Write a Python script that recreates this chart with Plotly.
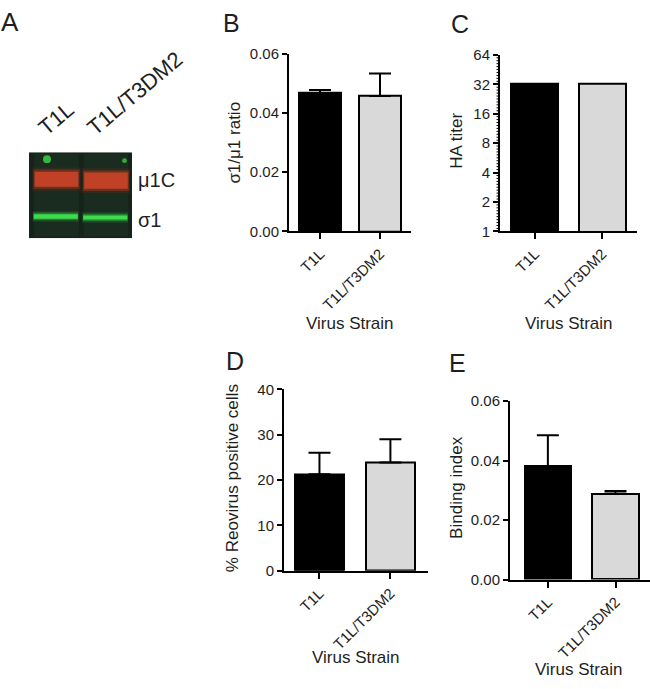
import math
import plotly.graph_objects as go

# ---------------- data ----------------
strains = ["T1L", "T1L/T3DM2"]
bar_colors = ["#000000", "#d9d9d9"]

ratio_mean = [0.0468, 0.0458]
ratio_err = [0.0010, 0.0076]

ha_titer = [32, 32]

reo_pos_mean = [21.3, 23.9]
reo_pos_err = [4.7, 5.1]

binding_mean = [0.0380, 0.0289]
binding_err = [0.0105, 0.0009]

ratio_ticks = [0.00, 0.02, 0.04, 0.06]
ha_ticks = [1, 2, 4, 8, 16, 32, 64]
reo_ticks = [0, 10, 20, 30, 40]
binding_ticks = [0.00, 0.02, 0.04, 0.06]

blot_lanes = ["T1L", "T1L/T3DM2"]
blot_bands = ["μ1C", "σ1"]

W, H = 650, 689
FONT = "Liberation Sans, Arial, sans-serif"
TXT = "#1e1e1e"


def px(xp):
    return xp / W


def py(yp):
    return 1 - yp / H


fig = go.Figure()

panels = [
    # (axis suffix, values, errors, x-domain px, y-domain px, xrange, barwidth)
    ("", ratio_mean, ratio_err, (289, 411), (228, 46), [-0.517, 1.517], 0.70),
    ("2", ha_titer, None, (500, 637), (228, 47), [-0.52, 1.52], 0.70),
    ("3", reo_pos_mean, reo_pos_err, (284, 428), (576, 390), [-0.5, 1.53], 0.68),
    ("4", binding_mean, binding_err, (510, 650), (585, 402), [-0.56, 1.51], 0.69),
]

for suf, vals, errs, xd, yd, xr, bw in panels:
    kw = dict(
        x=strains, y=vals, width=bw,
        marker=dict(color=bar_colors, line=dict(color="#000", width=2)),
        xaxis="x" + suf, yaxis="y" + suf, showlegend=False,
    )
    if errs is not None:
        kw["error_y"] = dict(type="data", array=errs, arrayminus=[0] * len(errs),
                             symmetric=False, color="#000", thickness=2, width=11)
    fig.add_trace(go.Bar(**kw))

axis_common = dict(
    showline=True, linecolor="#000", linewidth=2, showgrid=False, zeroline=False,
    ticks="outside", tickcolor="#000", tickwidth=2, ticklen=5,
    tickfont=dict(family=FONT, size=15, color=TXT),
)

layout = dict(
    width=W, height=H, margin=dict(l=0, r=0, t=0, b=0),
    plot_bgcolor="white", paper_bgcolor="white",
    font=dict(family=FONT, color=TXT), bargap=0,
)

for i, (suf, vals, errs, xd, yd, xr, bw) in enumerate(panels):
    xa = dict(axis_common, domain=[px(xd[0]), px(xd[1])], range=xr,
              anchor="y" + suf, tickangle=-45, ticklen=6, type="category")
    ya = dict(axis_common, domain=[py(yd[0]), py(yd[1])], anchor="x" + suf)
    if suf == "":
        ya.update(range=[0, 0.06], tickvals=ratio_ticks, tickformat=".2f")
    elif suf == "2":
        ya.update(type="log", range=[0, math.log10(64)], tickvals=ha_ticks,
                  ticktext=[str(t) for t in ha_ticks])
    elif suf == "3":
        ya.update(range=[0, 40], tickvals=reo_ticks)
    else:
        ya.update(range=[0, 0.06], tickvals=binding_ticks, tickformat=".2f")
    layout["xaxis" + suf] = xa
    layout["yaxis" + suf] = ya

# blot axis (panel A)
layout["xaxis5"] = dict(domain=[px(29), px(132)], range=[-0.556, 1.525], visible=False,
                        anchor="y5", fixedrange=True)
layout["yaxis5"] = dict(domain=[py(235), py(147)], range=[0, 1], visible=False,
                        anchor="x5", fixedrange=True)
fig.add_trace(go.Scatter(x=[0, 1], y=[0.5, 0.5], mode="markers", marker=dict(opacity=0),
                         xaxis="x5", yaxis="y5", showlegend=False, hoverinfo="skip"))

fig.update_layout(**layout)

shapes = []

# minor ticks of the log2 axis (panel C), evenly spaced in log space
n_oct = math.log2(ha_ticks[-1] / ha_ticks[0])
for k in range(int(n_oct)):
    for j in range(1, 10):
        f = (k + j / 10) / n_oct
        shapes.append(dict(type="line", xref="paper", yref="y2 domain",
                           x0=px(496.5), x1=px(499.5), y0=f, y1=f,
                           line=dict(color="#000", width=1), layer="above"))

# blot background
shapes.append(dict(type="rect", xref="x5", yref="y5", x0=-0.556, x1=1.525, y0=0, y1=1,
                   fillcolor="#16231a", line=dict(width=0), layer="above"))
# lane shading
for i, _ in enumerate(blot_lanes):
    shapes.append(dict(type="rect", xref="x5", yref="y5", x0=i - 0.45, x1=i + 0.45,
                       y0=0.02, y1=0.98, fillcolor="#1c2d20", line=dict(width=0),
                       layer="above", opacity=0.8))

red_band = {0: (0.60, 0.775), 1: (0.575, 0.765)}
green_band = {0: (0.228, 0.278), 1: (0.218, 0.265)}
for i, _ in enumerate(blot_lanes):
    lo, hi = red_band[i]
    for grow, op, col in [(0.05, 0.25, "#6e2a18"), (0.025, 0.5, "#a8381f"), (0.0, 0.85, "#cf4428")]:
        shapes.append(dict(type="rect", xref="x5", yref="y5", x0=i - 0.44 - grow,
                           x1=i + 0.44 + grow, y0=lo - grow, y1=hi + grow,
                           fillcolor=col, opacity=op, line=dict(width=0), layer="above"))
    lo, hi = green_band[i]
    for grow, op, col in [(0.04, 0.25, "#1f7a2a"), (0.02, 0.5, "#2fb83c"), (0.0, 0.95, "#3fe04f")]:
        shapes.append(dict(type="rect", xref="x5", yref="y5", x0=i - 0.46 - grow / 2,
                           x1=i + 0.43 + grow / 2, y0=lo - grow, y1=hi + grow,
                           fillcolor=col, opacity=op, line=dict(width=0), layer="above"))
# green specks
shapes.append(dict(type="circle", xref="paper", yref="paper", x0=px(43), x1=px(51),
                   y0=py(158), y1=py(150), fillcolor="#38c845", line=dict(width=0),
                   layer="above", opacity=0.9))
shapes.append(dict(type="circle", xref="paper", yref="paper", x0=px(122), x1=px(127),
                   y0=py(158), y1=py(153), fillcolor="#38c845", line=dict(width=0),
                   layer="above", opacity=0.8))

annotations = []


def ann(text, x, y, size, angle=0, xanchor="center", yanchor="middle"):
    annotations.append(dict(text=text, x=px(x), y=py(y), xref="paper", yref="paper",
                            showarrow=False, textangle=angle, xanchor=xanchor,
                            yanchor=yanchor, font=dict(family=FONT, size=size, color=TXT)))


# panel letters
ann("A", 10, 13, 26)
ann("B", 231, 14, 25)
ann("C", 460, 15, 25)
ann("D", 235, 361, 25)
ann("E", 457, 363, 25)

# axis titles
ann("σ1/μ1 ratio", 235, 137, 17, -90)
ann("HA titer", 457, 135, 17, -90)
ann("% Reovirus positive cells", 232, 481, 17, -90)
ann("Binding index", 457, 491, 17, -90)
ann("Virus Strain", 350, 322, 17)
ann("Virus Strain", 569, 322, 17)
ann("Virus Strain", 356, 665, 17)
ann("Virus Strain", 579, 677, 17)

# blot labels
ann(blot_lanes[0], 56, 112, 22, -40)
ann(blot_lanes[1], 135, 87, 22, -40)
ann(blot_bands[0], 136, 175, 20, 0, xanchor="left")
ann(blot_bands[1], 136, 216, 20, 0, xanchor="left")

fig.update_layout(shapes=shapes, annotations=annotations)

fig.write_html("out.html", config={"displayModeBar": False},
               post_script="document.body.style.margin='0';document.body.style.overflow='hidden';")
